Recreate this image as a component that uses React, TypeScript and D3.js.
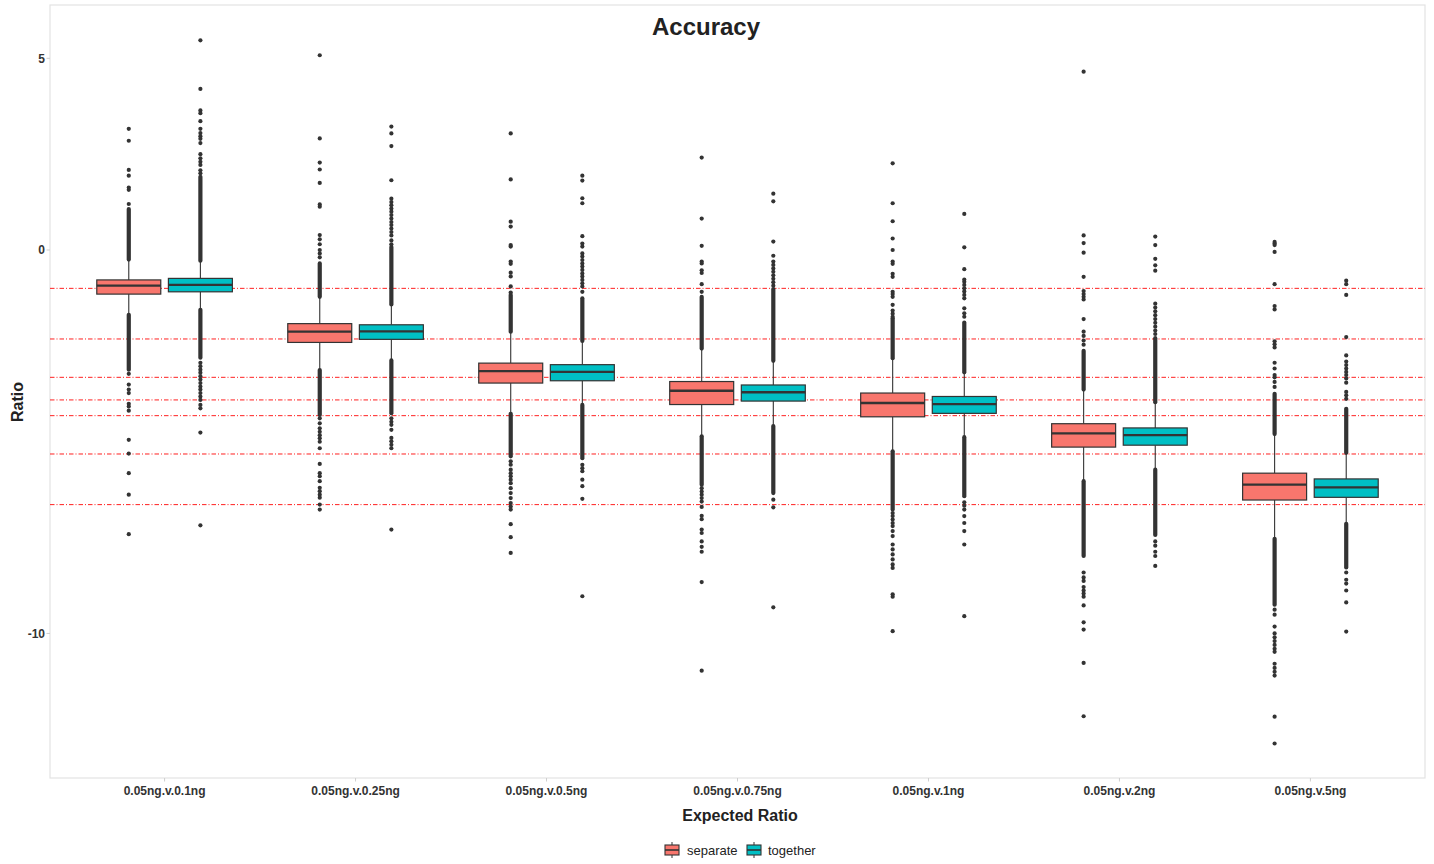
import React from "react";
import * as d3 from "d3";

// categories + groups
const categories = [
  "0.05ng.v.0.1ng",
  "0.05ng.v.0.25ng",
  "0.05ng.v.0.5ng",
  "0.05ng.v.0.75ng",
  "0.05ng.v.1ng",
  "0.05ng.v.2ng",
  "0.05ng.v.5ng",
];
const groups = ["separate", "together"];
const groupColors = ["#F8766D", "#00BFC4"];

// expected log2 ratios (red dot-dash lines)
const expected = [-1, -2.32, -3.32, -3.91, -4.32, -5.32, -6.64];

const yTicks = [5, 0, -10];

// [lower whisker, q1, median, q3, upper whisker]
const separateStats = [
  [-1.69, -1.15, -0.93, -0.78, -0.25],
  [-3.13, -2.41, -2.13, -1.92, -1.22],
  [-4.27, -3.47, -3.16, -2.95, -2.13],
  [-4.86, -4.03, -3.67, -3.43, -2.57],
  [-5.25, -4.35, -3.99, -3.73, -2.82],
  [-6.03, -5.14, -4.78, -4.53, -3.64],
  [-7.53, -6.52, -6.12, -5.82, -4.8],
];
const togetherStats = [
  [-1.56, -1.09, -0.91, -0.74, -0.28],
  [-2.88, -2.33, -2.12, -1.95, -1.42],
  [-4.04, -3.41, -3.18, -2.99, -2.37],
  [-4.59, -3.94, -3.71, -3.52, -2.89],
  [-4.88, -4.26, -4.02, -3.82, -3.19],
  [-5.73, -5.09, -4.83, -4.64, -3.97],
  [-7.14, -6.45, -6.19, -5.97, -5.29],
];

// stretches where outliers overlap into a solid streak: [from, to]
const separateRuns = [
  [[-0.25, 1.07], [-3.12, -1.69]],
  [[-1.22, -0.35], [-4.3, -3.13]],
  [[-2.13, -1.17], [-5.38, -4.27]],
  [[-2.57, -1.22], [-6.12, -4.86]],
  [[-2.82, -1.78], [-6.77, -5.25]],
  [[-3.64, -2.63], [-7.98, -6.03]],
  [[-4.8, -3.75], [-9.25, -7.53]],
];
const togetherRuns = [
  [[-0.28, 1.91], [-2.81, -1.56]],
  [[-1.42, 0.08], [-4.26, -2.88]],
  [[-2.37, -1.26], [-5.43, -4.04]],
  [[-2.89, -1.02], [-6.34, -4.59]],
  [[-3.19, -1.89], [-6.42, -4.88]],
  [[-3.97, -2.3], [-7.43, -5.73]],
  [[-5.29, -4.14], [-8.28, -7.14]],
];

// single outliers
const separateOutliers = [
  [3.16, 2.85, 2.09, 1.94, 1.63, 1.57, 1.2, -3.23, -3.51, -3.64, -3.73, -4.01, -4.08, -4.19, -4.95, -5.31, -5.82, -6.38, -7.41],
  [5.08, 2.91, 2.28, 2.1, 1.75, 1.19, 1.13, 0.39, 0.28, 0.15, 0.0, -0.09, -0.19, -4.39, -4.52, -4.65, -4.74, -4.83, -4.91, -5.0, -5.17, -5.58, -5.82, -5.9, -6.03, -6.2, -6.29, -6.38, -6.46, -6.64, -6.77],
  [3.04, 1.84, 0.74, 0.61, 0.13, 0.09, -0.3, -0.36, -0.59, -0.69, -0.95, -1.11, -5.51, -5.6, -5.73, -5.82, -5.9, -5.99, -6.08, -6.21, -6.34, -6.47, -6.6, -6.69, -6.77, -7.15, -7.49, -7.9],
  [2.41, 0.82, 0.11, -0.3, -0.35, -0.53, -0.6, -0.89, -1.09, -6.21, -6.3, -6.38, -6.47, -6.56, -6.7, -6.93, -7.02, -7.29, -7.38, -7.6, -7.74, -7.87, -8.66, -10.97],
  [2.26, 1.22, 0.75, 0.3, 0.0, -0.3, -0.36, -0.62, -0.7, -1.09, -1.15, -1.22, -1.43, -1.58, -1.66, -1.74, -6.86, -6.94, -7.03, -7.12, -7.2, -7.33, -7.46, -7.68, -7.81, -7.94, -8.07, -8.2, -8.29, -8.98, -9.04, -9.94],
  [4.65, 0.38, 0.18, -0.07, -0.7, -1.07, -1.15, -1.22, -1.29, -1.8, -2.13, -2.24, -2.36, -2.47, -8.41, -8.54, -8.63, -8.79, -8.88, -8.96, -9.04, -9.27, -9.71, -9.9, -10.77, -12.16],
  [0.21, 0.17, 0.13, -0.05, -0.89, -1.46, -1.55, -2.38, -2.46, -2.54, -2.94, -3.09, -3.26, -3.32, -3.44, -3.57, -9.38, -9.51, -9.82, -10.0, -10.1, -10.2, -10.3, -10.4, -10.48, -10.79, -10.9, -11.0, -11.1, -12.17, -12.87],
];
const togetherOutliers = [
  [5.47, 4.2, 3.64, 3.57, 3.36, 3.16, 3.05, 2.97, 2.9, 2.79, 2.5, 2.39, 2.3, 2.22, 2.08, 2.0, -2.94, -3.03, -3.12, -3.2, -3.29, -3.38, -3.47, -3.56, -3.64, -3.73, -3.82, -3.91, -4.04, -4.13, -4.76, -7.18],
  [3.22, 3.04, 2.71, 1.82, 1.34, 1.25, 1.17, 1.08, 1.0, 0.91, 0.82, 0.73, 0.65, 0.56, 0.47, 0.38, 0.25, 0.15, -4.39, -4.48, -4.56, -4.69, -4.9, -4.99, -5.08, -5.17, -7.29],
  [1.94, 1.81, 1.35, 1.22, 0.36, 0.17, 0.09, -0.09, -0.17, -0.26, -0.35, -0.43, -0.52, -0.61, -0.69, -0.78, -0.87, -0.95, -1.09, -5.6, -5.69, -5.77, -5.99, -6.16, -6.49, -9.03],
  [1.47, 1.27, 0.22, -0.15, -0.3, -0.39, -0.48, -0.57, -0.66, -0.75, -0.84, -0.93, -6.51, -6.71, -9.32],
  [0.94, 0.07, -0.5, -0.77, -0.83, -0.91, -1.0, -1.08, -1.17, -1.26, -1.52, -1.65, -1.74, -6.58, -6.67, -6.77, -6.94, -7.12, -7.33, -7.68, -9.55],
  [0.35, 0.13, -0.23, -0.4, -0.54, -1.4, -1.5, -1.6, -1.7, -1.8, -1.9, -2.0, -2.1, -2.19, -7.6, -7.71, -7.87, -7.98, -8.24],
  [-0.8, -0.89, -1.17, -2.27, -2.75, -2.91, -3.0, -3.09, -3.18, -3.26, -3.35, -3.46, -3.7, -3.79, -3.88, -8.41, -8.6, -8.7, -8.88, -9.19, -9.95],
];

const stats = [separateStats, togetherStats];
const runs = [separateRuns, togetherRuns];
const outliers = [separateOutliers, togetherOutliers];

const W = 1434;
const H = 864;
const panel = { left: 50, right: 1425, top: 5, bottom: 778 };
const font = "'Liberation Sans', Arial, Helvetica, sans-serif";
const ink = "#333333";
const R = 2.1;

const App = () => {
  const x = d3
    .scalePoint()
    .domain(categories)
    .range([panel.left, panel.right])
    .padding(0.6);
  const step = x.step();
  const dodge = step * 0.1875;
  const boxW = step * 0.335;

  const y = d3.scaleLinear().domain([-13.77, 6.39]).range([panel.bottom, panel.top]);

  return (
    <svg width={W} height={H} style={{ position: "absolute", left: 0, top: 0, background: "#fff" }}>
      <rect x={0} y={0} width={W} height={H} fill="#fff" />

      {/* panel */}
      <rect
        x={panel.left}
        y={panel.top}
        width={panel.right - panel.left}
        height={panel.bottom - panel.top}
        fill="#fff"
        stroke="#e3e3e3"
        strokeWidth={1.2}
      />

      {/* expected lines */}
      {expected.map((e, i) => (
        <line
          key={"e" + i}
          x1={panel.left}
          x2={panel.right}
          y1={y(e)}
          y2={y(e)}
          stroke="#ff2020"
          strokeWidth={1}
          strokeDasharray="4.5,2,1,2"
        />
      ))}

      {/* boxes */}
      {categories.map((c, ci) =>
        groups.map((g, gi) => {
          const cx = x(c) + (gi === 0 ? -dodge : dodge);
          const [lo, q1, med, q3, hi] = stats[gi][ci];
          return (
            <g key={c + g}>
              <line x1={cx} x2={cx} y1={y(hi)} y2={y(q3)} stroke={ink} strokeWidth={1.1} />
              <line x1={cx} x2={cx} y1={y(q1)} y2={y(lo)} stroke={ink} strokeWidth={1.1} />
              {runs[gi][ci].map(([a, b], ri) => (
                <line
                  key={"r" + ri}
                  x1={cx}
                  x2={cx}
                  y1={y(a)}
                  y2={y(b)}
                  stroke={ink}
                  strokeWidth={R * 2}
                  strokeLinecap="round"
                />
              ))}
              {outliers[gi][ci].map((v, oi) => (
                <circle key={"o" + oi} cx={cx} cy={y(v)} r={R} fill={ink} />
              ))}
              <rect
                x={cx - boxW / 2}
                y={y(q3)}
                width={boxW}
                height={y(q1) - y(q3)}
                fill={groupColors[gi]}
                stroke={ink}
                strokeWidth={1.2}
              />
              <line
                x1={cx - boxW / 2}
                x2={cx + boxW / 2}
                y1={y(med)}
                y2={y(med)}
                stroke={ink}
                strokeWidth={2.3}
              />
            </g>
          );
        })
      )}

      {/* y axis */}
      {yTicks.map((t) => (
        <g key={"yt" + t}>
          <line x1={panel.left - 3.5} x2={panel.left} y1={y(t)} y2={y(t)} stroke="#cfcfcf" />
          <text
            x={panel.left - 5}
            y={y(t)}
            dy="0.36em"
            textAnchor="end"
            fontFamily={font}
            fontWeight="bold"
            fontSize={12}
            fill={ink}
          >
            {t}
          </text>
        </g>
      ))}

      {/* x axis */}
      {categories.map((c) => (
        <g key={"xt" + c}>
          <line x1={x(c)} x2={x(c)} y1={panel.bottom} y2={panel.bottom + 3.5} stroke="#cfcfcf" />
          <text
            x={x(c)}
            y={795}
            textAnchor="middle"
            fontFamily={font}
            fontWeight="bold"
            fontSize={12}
            fill={ink}
          >
            {c}
          </text>
        </g>
      ))}

      {/* titles */}
      <text x={706} y={35} textAnchor="middle" fontFamily={font} fontWeight="bold" fontSize={24} fill="#222">
        Accuracy
      </text>
      <text x={740} y={821} textAnchor="middle" fontFamily={font} fontWeight="bold" fontSize={16} fill="#222">
        Expected Ratio
      </text>
      <text
        transform="translate(23,402) rotate(-90)"
        textAnchor="middle"
        fontFamily={font}
        fontWeight="bold"
        fontSize={16}
        fill="#222"
      >
        Ratio
      </text>

      {/* legend */}
      {groups.map((g, gi) => {
        const kx = gi === 0 ? 665 : 747;
        const tx = gi === 0 ? 687 : 768;
        const mid = kx + 7;
        return (
          <g key={"lg" + g}>
            <line x1={mid} x2={mid} y1={842} y2={858} stroke={ink} strokeWidth={1} />
            <rect x={kx} y={845} width={14} height={10} fill={groupColors[gi]} stroke={ink} strokeWidth={1.1} />
            <line x1={kx} x2={kx + 14} y1={850} y2={850} stroke={ink} strokeWidth={1.6} />
            <text x={tx} y={855} fontFamily={font} fontSize={13} fill="#222">
              {g}
            </text>
          </g>
        );
      })}
    </svg>
  );
};

export default App;
